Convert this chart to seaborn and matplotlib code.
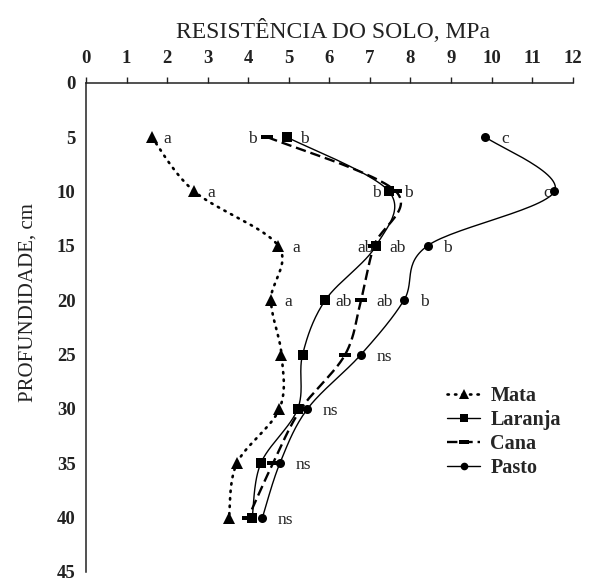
import numpy as np
import matplotlib
matplotlib.use("Agg")
import matplotlib.pyplot as plt
from matplotlib.lines import Line2D
import seaborn as sns

# Soil penetration resistance (MPa) by depth (cm) under four land uses
depth = [5, 10, 15, 20, 25, 30, 35, 40]
mata = [1.62, 2.67, 4.74, 4.56, 4.82, 4.77, 3.72, 3.53]
laranja = [4.95, 7.47, 7.15, 5.90, 5.34, 5.22, 4.31, 4.10]
cana = [4.47, 7.64, 7.10, 6.78, 6.39, 5.30, 4.61, 4.00]
pasto = [9.85, 11.55, 8.42, 7.84, 6.78, 5.46, 4.78, 4.35]

# Mean-comparison letters for each depth ('' = none)
mata_letters = ["a", "a", "a", "a", "", "", "", ""]
laranja_letters = ["b", "b", "ab", "ab", "", "", "", ""]
cana_letters = ["b", "b", "ab", "ab", "", "", "", ""]
pasto_letters = ["c", "c", "b", "b", "ns", "ns", "ns", "ns"]

x_ticks = list(range(0, 13))
y_ticks = list(range(0, 50, 5))

sns.set_theme(style="white")
plt.rcParams["font.family"] = ["Liberation Serif", "DejaVu Serif"]
plt.rcParams["lines.scale_dashes"] = False

W, H = 589, 578
fig = plt.figure(figsize=(W / 100, H / 100), dpi=100)
ax = fig.add_axes([86 / W, 1 - 572 / H, (572.7 - 86) / W, (572 - 82.7) / H])
ax.set_xlim(0, 12)
ax.set_ylim(45, 0)


def smooth(xs, ys, n=30):
    """Bezier-smoothed path through the points, built in display space."""
    pts = ax.transData.transform(np.column_stack([xs, ys]))
    out = [pts[0]]
    m = len(pts)
    for i in range(m - 1):
        p0 = pts[i - 1] if i > 0 else pts[i]
        p1, p2 = pts[i], pts[i + 1]
        p3 = pts[i + 2] if i + 2 < m else pts[i + 1]
        c1 = p1 + (p2 - p0) / 6.0
        c2 = p2 - (p3 - p1) / 6.0
        t = np.linspace(0, 1, n)[1:, None]
        seg = ((1 - t) ** 3) * p1 + 3 * ((1 - t) ** 2) * t * c1 \
            + 3 * (1 - t) * t ** 2 * c2 + t ** 3 * p2
        out.extend(seg)
    out = ax.transData.inverted().transform(np.array(out))
    return out[:, 0], out[:, 1]


bar_marker = [(-1, -0.42), (1, -0.42), (1, 0.42), (-1, 0.42), (-1, -0.42)]

series = [
    ("Mata", mata, mata_letters, dict(ls=(0, (1.0, 4.4)), lw=1.9), "^", 8.5,
     [16, 17, 18, 17, 0, 0, 0, 0]),
    ("Laranja", laranja, laranja_letters, dict(ls="-", lw=1.0), "s", 6.5,
     [18, -13, -10, 18, 0, 0, 0, 0]),
    ("Cana", cana, cana_letters, dict(ls=(0, (7.5, 3.5)), lw=1.7), bar_marker, 8.5,
     [-15, 12, 24, 24, 0, 0, 0, 0]),
    ("Pasto", pasto, pasto_letters, dict(ls="-", lw=1.0), "o", 6.5,
     [20, -7, 20, 20, 23, 23, 23, 23]),
]

handles = []
for name, vals, letters, lstyle, mk, ms, offs in series:
    sx, sy = smooth(vals, depth)
    sns.lineplot(x=sx, y=sy, sort=False, estimator=None, ax=ax, color="black",
                 linestyle=lstyle["ls"], linewidth=lstyle["lw"],
                 dash_capstyle="round" if name == "Mata" else "butt")
    ax.plot(vals, depth, linestyle="none", marker=mk, markersize=ms,
            color="black", markeredgewidth=0, zorder=3)
    for v, d, lab, o in zip(vals, depth, letters, offs):
        if lab:
            ax.annotate(lab, (v, d), xytext=(o, -2), textcoords="offset pixels",
                        ha="center", va="center", fontsize=12.5, color="#222222")
    handles.append(Line2D([], [], color="black", linestyle=lstyle["ls"],
                          linewidth=lstyle["lw"], marker=mk, markersize=ms - 1,
                          markeredgewidth=0,
                          dash_capstyle="round" if name == "Mata" else "butt"))

ax.legend(handles, [s[0] for s in series], loc="upper left",
          bbox_to_anchor=(447 / W, 1 - 386 / H), bbox_transform=fig.transFigure,
          frameon=False, handlelength=1.65, handletextpad=0.5, labelspacing=0.2,
          prop=dict(family="Liberation Serif", weight="bold", size=14.5),
          borderpad=0, borderaxespad=0)

# Axes frame: top and left only, ticks pointing outward
for side in ("right", "bottom"):
    ax.spines[side].set_visible(False)
for side in ("top", "left"):
    ax.spines[side].set_visible(True)
    ax.spines[side].set_color("#222222")
    ax.spines[side].set_linewidth(1.1)
ax.xaxis.set_ticks_position("top")
ax.xaxis.set_label_position("top")
ax.set_xticks(x_ticks)
ax.set_yticks(y_ticks)
ax.tick_params(axis="both", direction="out", length=4.5, width=1.0,
               color="#222222", labelsize=13.5, pad=3)
ax.tick_params(axis="x", pad=7)
for lab in ax.get_xticklabels() + ax.get_yticklabels():
    lab.set_fontweight("bold")
    lab.set_color("#222222")
ax.set_xlabel("RESISTÊNCIA DO SOLO, MPa", fontsize=17, color="#222222")
ax.set_ylabel("PROFUNDIDADE, cm", fontsize=15, color="#222222")
ax.xaxis.set_label_coords(0.508, 1.091)
ax.yaxis.set_label_coords(-0.099, 0.55)
ax.grid(False)

fig.savefig("out.png", dpi=100)
